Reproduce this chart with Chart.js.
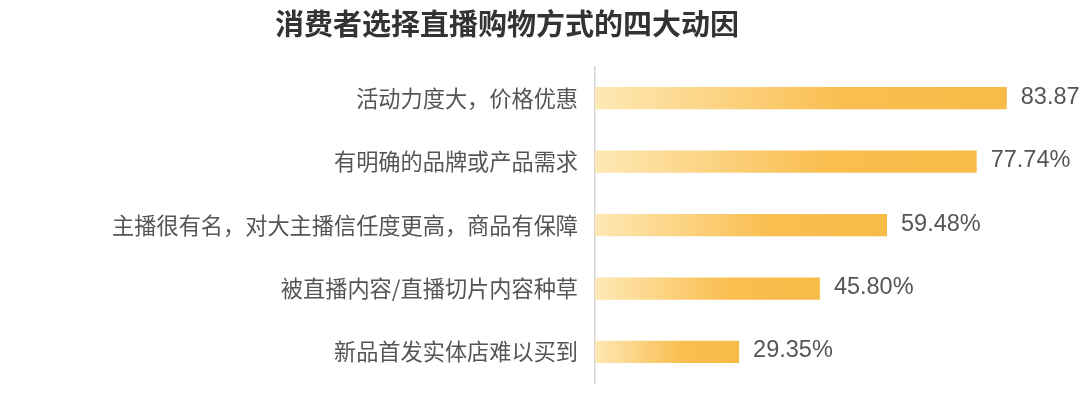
<!DOCTYPE html>
<html lang="zh">
<head>
<meta charset="utf-8">
<title>消费者选择直播购物方式的四大动因</title>
<script src="https://cdn.jsdelivr.net/npm/chart.js@4/dist/chart.umd.min.js"></script>
<style>
  html, body { margin: 0; padding: 0; background: #fff; overflow: hidden; }
  #wrap { width: 1100px; height: 414px; position: relative; }
</style>
</head>
<body>
<div id="wrap"><canvas id="chart"></canvas></div>
<script>
const titleText = "消费者选择直播购物方式的四大动因";
const categories = [
  "活动力度大，价格优惠",
  "有明确的品牌或产品需求",
  "主播很有名，对大主播信任度更高，商品有保障",
  "被直播内容/直播切片内容种草",
  "新品首发实体店难以买到"
];
const shares = [83.87, 77.74, 59.48, 45.80, 29.35];

// gradient from light yellow at the bar start to orange at its end
function barGradient(ctx) {
  const chart = ctx.chart;
  const x = chart.scales.x;
  if (!chart.chartArea || !x || ctx.dataIndex === undefined) return "#f9bd4d";
  const x0 = x.getPixelForValue(0);
  const x1 = x.getPixelForValue(shares[ctx.dataIndex]);
  const g = chart.ctx.createLinearGradient(x0, 0, x1, 0);
  g.addColorStop(0, "#fee8b4");
  g.addColorStop(0.6, "#f9be50");
  g.addColorStop(1, "#f8bb48");
  return g;
}

// the title sits at the left padding; let the long tick labels use the space left of it
const widenLabels = {
  id: "widenLabels",
  afterLayout(chart) {
    chart.scales.y.left = 0;
  }
};

// value text right of each bar
const valueLabels = {
  id: "valueLabels",
  afterDatasetsDraw(chart) {
    const c = chart.ctx;
    const meta = chart.getDatasetMeta(0);
    c.save();
    c.font = "23.5px 'Liberation Sans', Arial, sans-serif";
    c.fillStyle = "#555";
    c.textAlign = "left";
    c.textBaseline = "middle";
    meta.data.forEach((bar, i) => {
      c.fillText(shares[i].toFixed(2) + "%", bar.x + 14, bar.y - 1);
    });
    c.restore();
  }
};

new Chart(document.getElementById("chart"), {
  type: "bar",
  data: {
    labels: categories,
    datasets: [{
      data: shares,
      backgroundColor: barGradient,
      borderWidth: 0,
      categoryPercentage: 1,
      barPercentage: 0.35
    }]
  },
  options: {
    indexAxis: "y",
    responsive: true,
    maintainAspectRatio: false,
    animation: false,
    layout: { padding: { left: 275, right: 14, top: 0, bottom: 17.5 } },
    plugins: {
      legend: { display: false },
      tooltip: { enabled: false },
      title: {
        display: true,
        text: titleText,
        align: "start",
        color: "#333",
        font: { family: "'Noto Sans CJK SC', sans-serif", size: 29, weight: "bold" },
        padding: { top: 7, bottom: 24.7 }
      }
    },
    scales: {
      x: { display: false, min: 0, max: 100 },
      y: {
        afterFit(scale) { scale.width = 320; },
        grid: { display: false, drawTicks: false },
        border: { display: true, color: "#d6d6d6", width: 1.5 },
        ticks: {
          color: "#555",
          padding: 17,
          font: { family: "'Noto Sans CJK SC', sans-serif", size: 22.2 }
        }
      }
    }
  },
  plugins: [widenLabels, valueLabels]
});
</script>
</body>
</html>
